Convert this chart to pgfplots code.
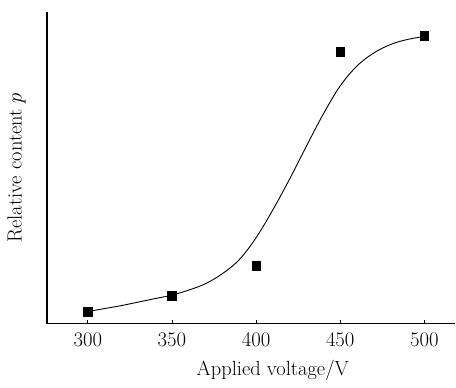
\documentclass[border=0pt]{standalone}
\usepackage{pgfplots}
\pgfplotsset{compat=1.18}
\begin{document}
\fontsize{20.5}{24}\selectfont
\begin{tikzpicture}
\begin{axis}[
  scale only axis,
  width=409pt, height=312pt,
  xmin=275.7, xmax=518.4,
  ymin=0, ymax=312,
  axis x line*=bottom, axis y line*=left,
  axis line style={line width=1.3pt},
  xtick={300,350,400,450,500},
  ytick=\empty,
  tick align=inside,
  major tick length=4pt,
  tick style={line width=0.8pt, black},
  xticklabel style={font=\fontsize{20.5}{24}\selectfont, yshift=-3pt},
  xlabel={Applied voltage/V},
  ylabel={Relative content $p$},
  label style={font=\fontsize{20.5}{24}\selectfont},
  xlabel style={at={(axis description cs:0.553,0)}, anchor=north, yshift=-30pt},
  ylabel style={at={(axis description cs:-0.035,0.5)}, anchor=south},
  clip=false,
]
\addplot[black, line width=0.9pt, smooth, tension=0.6] coordinates {
(300,12) (310,15) (320,18) (330,21.5) (340,25) (350,28.5) (360,33.5) (370,40)
(380,50) (390,64) (400,86) (410,114) (420,145) (430,178) (440,210) (450,238)
(460,258) (470,271) (480,279.5) (490,284.5) (500,287.5)
};
\addplot[only marks, mark=square*, mark size=4.3pt, black] coordinates {
(300,12) (350,28) (400,58) (450,272) (500,288)
};
\path (rel axis cs:0,1) ++(-47pt,12pt) coordinate (a);
\path (rel axis cs:1,0) ++(0pt,-55pt) coordinate (b);
\path (a) -- (b);
\end{axis}
\end{tikzpicture}
\end{document}
